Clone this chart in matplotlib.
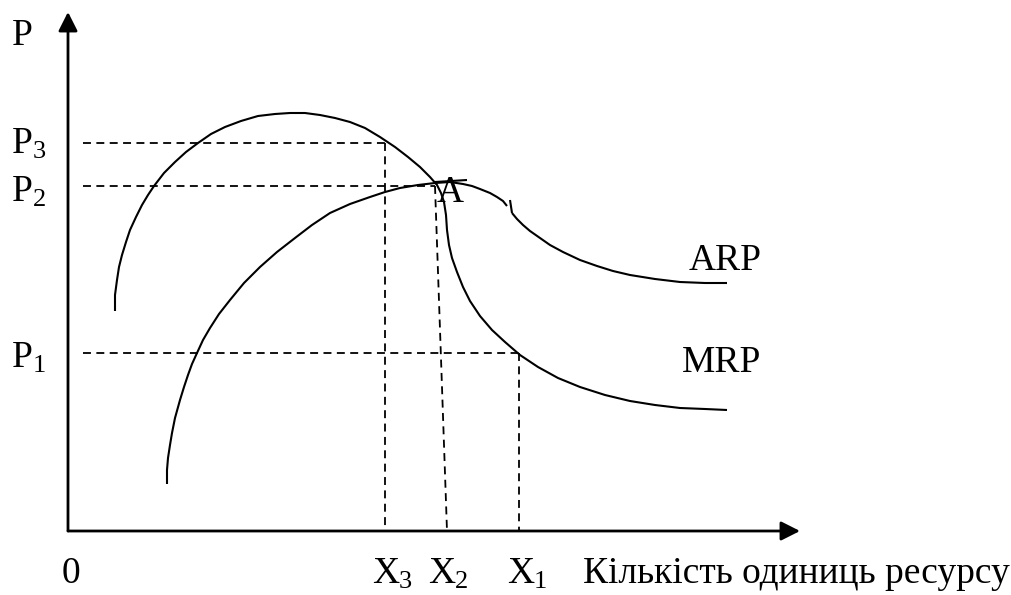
import numpy as np
import matplotlib.pyplot as plt

plt.rcParams['font.family'] = ['Liberation Serif', 'DejaVu Serif']

# крива MRP (граничний продукт у грошовому виразі)
mrp_x = [47, 47, 49, 51, 54, 58, 62, 68, 74, 80, 86, 96, 107, 118, 130, 143, 157, 173,
         190, 207, 222, 237, 252, 267, 282, 297, 312, 327, 340, 352, 362, 369, 373, 376,
         378, 379, 381, 384, 389, 395, 402, 412, 424, 437, 452, 470, 490, 512, 537, 562,
         587, 612, 637, 659]
mrp_y = [220, 236, 251, 264, 276, 289, 301, 314, 326, 336, 345, 358, 369, 379, 388, 397,
         404, 410, 415, 417, 418, 418, 416, 413, 409, 403, 394, 384, 374, 364, 354, 346,
         338, 329, 316, 301, 286, 273, 259, 244, 230, 215, 201, 189, 176, 164, 153, 144,
         136, 130, 126, 123, 122, 121]

# крива ARP (середній продукт у грошовому виразі), з розривом біля X1
arp_x1 = [99, 99, 100, 102, 104, 107, 112, 116, 120, 124, 129, 135, 142, 151, 162, 176,
          192, 209, 227, 244, 262, 282, 302, 317, 332, 350, 367, 382, 395, 404, 412, 422,
          429, 435, 439]
arp_y1 = [47, 61, 73, 86, 98, 113, 131, 144, 156, 167, 178, 191, 203, 217, 231, 248,
          264, 279, 293, 306, 318, 327, 334, 339, 343, 346, 348, 349, 347, 345, 342, 338,
          334, 330, 325]
arp_x2 = [444, 449, 455, 462, 472, 482, 495, 512, 529, 545, 562, 587, 612, 637, 659]
arp_y2 = [318, 312, 306, 300, 293, 286, 279, 271, 265, 260, 256, 252, 249, 248, 248]

# рівні цін та кількості ресурсу
p_levels = {'3': 388, '2': 345, '1': 178}
x_levels = {'3': 317, '2': 379, '1': 451}

fig = plt.figure(figsize=(10.11, 5.95), dpi=100)
ax = fig.add_axes([0, 0, 1, 1])
ax.set_xlim(-68, 1011 - 68)
ax.set_ylim(531 - 595, 531)
ax.axis('off')

# осі
arrow = dict(arrowstyle='-|>,head_length=1.15,head_width=0.58', color='black',
             lw=2.0, shrinkA=0, shrinkB=0, mutation_scale=10)
ax.annotate('', xy=(0, 519), xytext=(0, 0), arrowprops=arrow)
ax.annotate('', xy=(732, 0), xytext=(0, 0), arrowprops=arrow)

dash = dict(color='black', lw=1.3, dashes=(4.4, 3.0))
ax.plot([15, x_levels['3']], [p_levels['3']] * 2, **dash)
ax.plot([x_levels['3'], x_levels['3']], [p_levels['3'], 0], **dash)
ax.plot([15, 367], [p_levels['2']] * 2, **dash)
ax.plot([367, x_levels['2']], [p_levels['2'], 0], **dash)
ax.plot([15, x_levels['1']], [p_levels['1']] * 2, **dash)
ax.plot([x_levels['1'], x_levels['1']], [p_levels['1'], 0], **dash)

line = dict(color='black', lw=1.5, solid_joinstyle='round', solid_capstyle='butt')
ax.plot(mrp_x, mrp_y, **line)
ax.plot(arp_x1, arp_y1, **line)
ax.plot(arp_x2, arp_y2, **line)
ax.plot([442, 444], [331, 318], **line)
ax.plot([367, 399], [349, 351], **line)

fs = 27


def label(x, y, main, sub=None):
    t = ax.text(x, y, main, fontsize=fs, ha='left', va='baseline')
    if sub:
        ax.annotate(sub, xy=(1, 0), xycoords=t, xytext=(0, 2.2),
                    textcoords='offset points', fontsize=19, ha='left', va='baseline')


label(-56, 486, 'P')
label(-56, 378, 'P', '3')
label(-56, 330, 'P', '2')
label(-56, 164, 'P', '1')
label(369, 329, 'A')
label(621, 261, 'ARP')
label(614, 159, 'MRP')

label(-6, -52, '0')
label(304, -52, 'X', '3')
label(360, -52, 'X', '2')
label(439, -52, 'X', '1')
label(515, -52, 'Кількість одиниць ресурсу')

fig.savefig('out.png', dpi=100, facecolor='white')
